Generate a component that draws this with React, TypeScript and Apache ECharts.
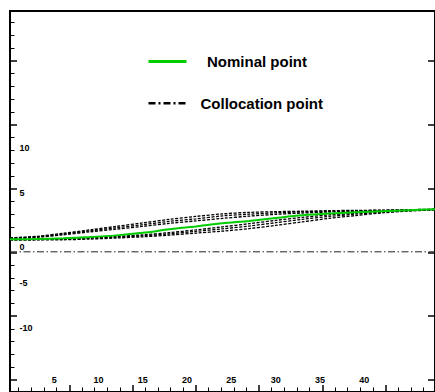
import React, { useEffect, useRef } from "react";
import * as echarts from "echarts";

// data (x in plot units)
const X = [0, 3, 6, 9, 12, 15, 18, 21, 24, 27, 30, 33, 36, 39, 42, 45, 48];
const NOMINAL = [-0.11, -0.08, 0, 0.14, 0.33, 0.61, 1.0, 1.33, 1.67, 1.94, 2.26, 2.56, 2.76, 2.89, 3.02, 3.13, 3.24];
const COLL_U1 = [0.06, 0.22, 0.56, 0.94, 1.33, 1.72, 2.11, 2.44, 2.72, 2.89, 2.97, 3.02, 3.08, 3.11, 3.14, 3.19, 3.24];
const COLL_U2 = [0, 0.17, 0.47, 0.83, 1.17, 1.52, 1.89, 2.17, 2.5, 2.69, 2.84, 2.94, 3.01, 3.07, 3.11, 3.17, 3.22];
const COLL_U3 = [-0.03, 0.11, 0.39, 0.72, 1.02, 1.33, 1.67, 1.94, 2.22, 2.47, 2.67, 2.82, 2.93, 3.02, 3.08, 3.14, 3.2];
const COLL_L1 = [-0.09, -0.09, -0.03, 0.08, 0.22, 0.39, 0.64, 0.94, 1.28, 1.63, 2.0, 2.33, 2.61, 2.8, 2.98, 3.11, 3.22];
const COLL_L2 = [-0.14, -0.13, -0.1, 0, 0.13, 0.28, 0.5, 0.78, 1.06, 1.37, 1.74, 2.11, 2.44, 2.69, 2.91, 3.08, 3.2];
const COLL_L3 = [-0.2, -0.18, -0.16, -0.08, 0.04, 0.17, 0.36, 0.58, 0.8, 1.08, 1.44, 1.83, 2.22, 2.53, 2.83, 3.03, 3.18];
const COLLOCATION = [COLL_U1, COLL_U2, COLL_U3, COLL_L1, COLL_L2, COLL_L3];
const BASELINE_X = [0, 48];
const BASELINE_Y = -1.5;

// tick labels (data units)
const X_LABELS = [5, 10, 15, 20, 25, 30, 35, 40];
const Y_LABELS = [-10, -5, 0, 5, 10];

// tick marks (in tick units)
const X_TICK_RANGE = [-4.6875, 28.90625];
const X_MAJOR = [0, 5, 10, 15, 20, 25];
const X_MINOR = [-4, -3, -2, -1, 1, 2, 3, 4, 6, 7, 8, 9, 11, 12, 13, 14, 16, 17, 18, 19, 21, 22, 23, 24, 26, 27, 28];
const Y_TICK_RANGE = [-10.9375, 18.90625];
const Y_MAJOR = [-10, -5, 0, 5, 10, 15];
const Y_MINOR = [-9, -8, -7, -6, -4, -3, -2, -1, 1, 2, 3, 4, 6, 7, 8, 9, 11, 12, 13, 14, 16, 17, 18];

const FONT = "'Liberation Sans', Arial, Helvetica, sans-serif";

export default function App() {
  const ref = useRef<HTMLDivElement>(null);
  useEffect(() => {
    const chart = echarts.init(ref.current!, null, { renderer: "svg" });
    const pairs = (ys: number[]) => X.map((x, i) => [x, ys[i]]);
    const tickAxis = (
      position: string,
      range: number[],
      values: number[],
      length: number,
      width: number
    ) => ({
      type: "value",
      gridIndex: 0,
      position,
      min: range[0],
      max: range[1],
      axisLine: { show: false, onZero: false },
      axisLabel: { show: false },
      splitLine: { show: false },
      axisTick: {
        show: true,
        inside: true,
        length,
        customValues: values,
        lineStyle: { color: "#000", width },
      },
    });
    const option: any = {
      animation: false,
      backgroundColor: "#fff",
      textStyle: { fontFamily: FONT },
      grid: {
        left: 10,
        top: 11,
        width: 430,
        height: 382,
        show: true,
        borderColor: "#000",
        borderWidth: 2,
        backgroundColor: "transparent",
      },
      legend: {
        orient: "vertical",
        left: 147,
        top: 54,
        padding: 0,
        itemWidth: 38,
        itemHeight: 14,
        itemGap: 26.7,
        itemStyle: { opacity: 0 },
        textStyle: { fontFamily: FONT, fontSize: 15, fontWeight: "bold", color: "#000", lineHeight: 14 },
        data: [
          {
            name: "Nominal point",
            itemStyle: { opacity: 0 },
            lineStyle: { width: 3, color: "#00cc00" },
            textStyle: { padding: [0, 0, 0, 15.5] },
          },
          {
            name: "Collocation point",
            itemStyle: { opacity: 0 },
            lineStyle: { type: [7, 3, 2, 3], width: 2.5, color: "#000" },
            textStyle: { padding: [0, 0, 0, 9] },
          },
        ],
      },
      xAxis: [
        {
          type: "value",
          gridIndex: 0,
          position: "bottom",
          min: 0,
          max: 48,
          axisLine: { show: false, onZero: false },
          axisTick: { show: false },
          splitLine: { show: false },
          axisLabel: {
            inside: true,
            margin: 8,
            customValues: X_LABELS,
            fontFamily: FONT,
            fontSize: 9,
            fontWeight: "bold",
            color: "#000",
          },
        },
        tickAxis("bottom", X_TICK_RANGE, X_MAJOR, 7, 1.5),
        tickAxis("bottom", X_TICK_RANGE, X_MINOR, 4.5, 1),
      ],
      yAxis: [
        {
          type: "value",
          gridIndex: 0,
          position: "left",
          min: -17.1,
          max: 25.3,
          axisLine: { show: false, onZero: false },
          axisTick: { show: false },
          splitLine: { show: false },
          axisLabel: {
            inside: true,
            margin: 9.5,
            customValues: Y_LABELS,
            fontFamily: FONT,
            fontSize: 9,
            fontWeight: "bold",
            color: "#000",
            formatter: (v: number) => (v === 0 ? "{z|0}" : String(v)),
            rich: {
              z: { padding: [18, 0, 0, 0], fontFamily: FONT, fontSize: 9, fontWeight: "bold", color: "#000" },
            },
          },
        },
        tickAxis("left", Y_TICK_RANGE, Y_MAJOR, 7, 1.5),
        tickAxis("left", Y_TICK_RANGE, Y_MINOR, 4.5, 1),
        tickAxis("right", Y_TICK_RANGE, Y_MAJOR, 7, 1.5),
      ],
      series: [
        {
          name: "Collocation point",
          type: "line",
          xAxisIndex: 0,
          yAxisIndex: 0,
          symbol: "none",
          data: BASELINE_X.map((x) => [x, BASELINE_Y]),
          lineStyle: { color: "#222", width: 1, type: [7, 2.5, 1.5, 2.5] },
          itemStyle: { color: "#000" },
        },
        ...COLLOCATION.map((ys) => ({
          name: "Collocation point",
          type: "line",
          xAxisIndex: 0,
          yAxisIndex: 0,
          symbol: "none",
          smooth: 0.3,
          data: pairs(ys),
          lineStyle: { color: "#000", width: 1.3, type: [3, 1.5] },
          itemStyle: { color: "#000" },
        })),
        {
          name: "Nominal point",
          type: "line",
          xAxisIndex: 0,
          yAxisIndex: 0,
          symbol: "none",
          smooth: 0.3,
          data: pairs(NOMINAL),
          lineStyle: { color: "#00cc00", width: 2 },
          itemStyle: { color: "#00cc00" },
        },
      ],
    };
    chart.setOption(option);
    return () => chart.dispose();
  }, []);
  return (
    <div
      ref={ref}
      style={{ position: "fixed", left: 0, top: 0, width: 435, height: 392, overflow: "hidden", background: "#fff" }}
    />
  );
}
